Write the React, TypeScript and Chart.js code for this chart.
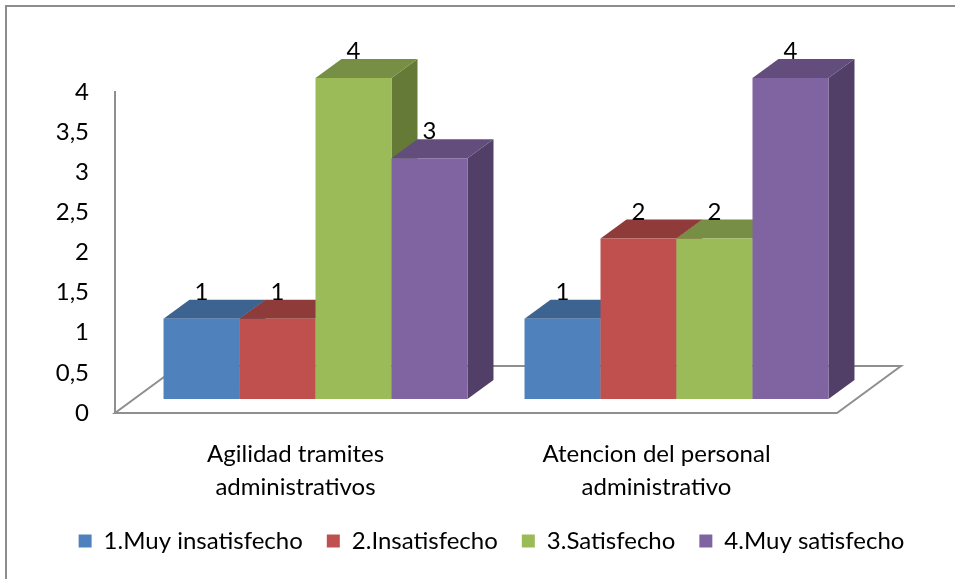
import React, { useEffect, useRef } from 'react';
import { Chart, registerables } from 'chart.js';

Chart.register(...registerables);

// ---- data ----
const categories = [
  ['Agilidad tramites', 'administrativos'],
  ['Atencion del personal', 'administrativo'],
];
const seriesNames = ['1.Muy insatisfecho', '2.Insatisfecho', '3.Satisfecho', '4.Muy satisfecho'];
const muyInsatisfecho = [1, 1];
const insatisfecho = [1, 2];
const satisfecho = [4, 2];
const muySatisfecho = [3, 4];
const seriesValues = [muyInsatisfecho, insatisfecho, satisfecho, muySatisfecho];
const yTickLabels = ['0', '0,5', '1', '1,5', '2', '2,5', '3', '3,5', '4'];

// ---- style ----
const frontColors = ['#4F81BD', '#C0504D', '#9BBB59', '#8064A2'];
const topColors = ['#3D6391', '#8E3B39', '#778F45', '#624D7C'];
const sideColors = ['#33527A', '#7A3230', '#647A36', '#513F68'];
const FONT = 'Lato';
const FONT_SIZE = 24;
const OFF = { x: 20, y: -14 }; // bars stand back on the floor
const BD = { x: 26, y: -19 }; // bar depth
const FLOOR = { x: 64, y: -47 }; // floor depth
const LINE = '#8f8f8f';

const bars3d = {
  id: 'bars3d',
  beforeDatasetsDraw(chart: any) {
    const { ctx, chartArea } = chart;
    ctx.save();
    // floor
    ctx.strokeStyle = LINE;
    ctx.lineWidth = 2;
    ctx.beginPath();
    ctx.moveTo(chartArea.left, chartArea.bottom);
    ctx.lineTo(chartArea.right, chartArea.bottom);
    ctx.lineTo(chartArea.right + FLOOR.x, chartArea.bottom + FLOOR.y);
    ctx.lineTo(chartArea.left + FLOOR.x, chartArea.bottom + FLOOR.y);
    ctx.closePath();
    ctx.stroke();

    const poly = (pts: number[][]) => {
      ctx.beginPath();
      ctx.moveTo(pts[0][0], pts[0][1]);
      for (let k = 1; k < pts.length; k++) ctx.lineTo(pts[k][0], pts[k][1]);
      ctx.closePath();
      ctx.fill();
    };

    const labels: { x: number; y: number; text: string }[] = [];
    const n = chart.data.labels.length;
    for (let i = 0; i < n; i++) {
      for (let d = 0; d < chart.data.datasets.length; d++) {
        const meta = chart.getDatasetMeta(d);
        if (!chart.isDatasetVisible(d)) continue;
        const el = meta.data[i];
        if (!el) continue;
        const { x, y, base, width } = el.getProps(['x', 'y', 'base', 'width'], true);
        const l = x - width / 2 + OFF.x;
        const r = x + width / 2 + OFF.x;
        const t = y + OFF.y;
        const b = base + OFF.y;
        ctx.fillStyle = sideColors[d];
        poly([[r, b], [r + BD.x, b + BD.y], [r + BD.x, t + BD.y], [r, t]]);
        ctx.fillStyle = topColors[d];
        poly([[l, t], [r, t], [r + BD.x, t + BD.y], [l + BD.x, t + BD.y]]);
        ctx.fillStyle = frontColors[d];
        ctx.fillRect(l, t, r - l, b - t);
        labels.push({ x: (l + r) / 2, y: t + BD.y, text: String(chart.data.datasets[d].data[i]) });
      }
    }
    ctx.fillStyle = '#000';
    ctx.font = `${FONT_SIZE}px ${FONT}`;
    ctx.textAlign = 'center';
    ctx.textBaseline = 'alphabetic';
    labels.forEach((lb) => ctx.fillText(lb.text, lb.x, lb.y));
    ctx.restore();
    return false;
  },
};

export default function App() {
  const ref = useRef<HTMLCanvasElement | null>(null);
  useEffect(() => {
    if (!ref.current) return;
    Chart.defaults.font.family = FONT;
    Chart.defaults.color = '#000';
    const chart = new Chart(ref.current, {
      type: 'bar',
      data: {
        labels: categories,
        datasets: seriesNames.map((name, k) => ({
          label: name,
          data: seriesValues[k],
          backgroundColor: frontColors[k],
          borderWidth: 0,
          categoryPercentage: 0.842,
          barPercentage: 1,
        })),
      },
      options: {
        responsive: false,
        animation: false,
        events: [],
        layout: { padding: { top: 92, left: 28, right: 0, bottom: 16 } },
        plugins: {
          tooltip: { enabled: false },
          legend: {
            position: 'bottom',
            labels: {
              boxWidth: 13,
              boxHeight: 13,
              padding: 24,
              color: '#000',
              font: { family: FONT, size: FONT_SIZE },
            },
          },
        },
        scales: {
          x: {
            grid: { display: false },
            border: { display: false },
            ticks: {
              padding: 17,
              maxRotation: 0,
              autoSkip: false,
              color: '#000',
              font: { family: FONT, size: FONT_SIZE, lineHeight: 1.375 },
            },
            afterFit: (s: any) => {
              s.height = 92;
            },
          },
          y: {
            min: 0,
            max: 4,
            grid: { display: false, drawTicks: false },
            border: { display: true, color: LINE, width: 2 },
            ticks: {
              stepSize: 0.5,
              padding: 26,
              color: '#000',
              font: { family: FONT, size: FONT_SIZE },
              callback: (_v: any, i: number) => yTickLabels[i],
            },
            afterFit: (s: any) => {
              s.width = 87;
            },
          },
          yRight: {
            type: 'linear',
            position: 'right',
            display: true,
            grid: { display: false },
            border: { display: false },
            ticks: { display: false },
            afterFit: (s: any) => {
              s.width = 118;
            },
          },
        },
      },
      plugins: [bars3d],
    } as any);
    return () => chart.destroy();
  }, []);

  return (
    <div style={{ position: 'fixed', left: 0, top: 0, width: 955, height: 579, background: '#fff', overflow: 'hidden' }}>
      <div
        style={{
          position: 'absolute',
          left: 5,
          top: 5,
          width: 1000,
          height: 640,
          border: '2px solid #8d8d8d',
          boxSizing: 'border-box',
        }}
      />
      <canvas ref={ref} width={955} height={579} style={{ position: 'absolute', left: 0, top: 0, display: 'block' }} />
    </div>
  );
}
